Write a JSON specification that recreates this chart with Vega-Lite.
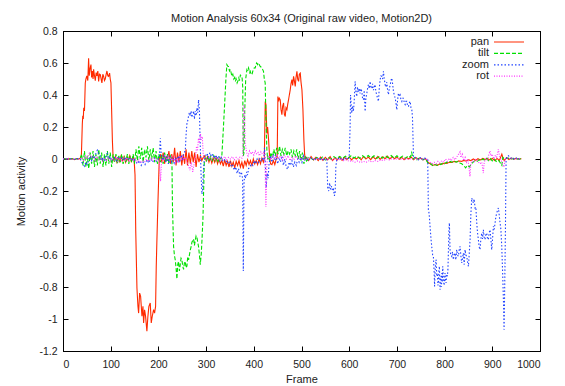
{
"$schema": "https://vega.github.io/schema/vega-lite/v6.json",
"width": 477, "height": 320,
"autosize": {"type": "none"},
"padding": {"left": 63, "top": 31, "right": 25, "bottom": 35},
"background": "white",
"title": {"text": "Motion Analysis 60x34 (Original raw video, Motion2D)", "fontSize": 11, "fontWeight": "normal", "font": "Liberation Sans", "color": "#222", "offset": 2},
"config": {"view": {"stroke": "#000", "strokeWidth": 1}, "font": "Liberation Sans",
 "axis": {"domainColor": "#000", "tickColor": "#000", "labelColor": "#222", "titleColor": "#222", "labelFontSize": 10.5, "titleFontSize": 11, "titleFontWeight": "normal", "grid": false}},
"data": {"values": [
{"s":"pan","f":0,"v":0},{"s":"pan","f":4,"v":0.003},{"s":"pan","f":8,"v":-0.002},{"s":"pan","f":12,"v":0.004},{"s":"pan","f":16,"v":-0.003},{"s":"pan","f":20,"v":0.002},{"s":"pan","f":24,"v":-0.004},{"s":"pan","f":28,"v":0.003},{"s":"pan","f":32,"v":-0.002},{"s":"pan","f":36,"v":0.005},{"s":"pan","f":38.5,"v":0.02},{"s":"pan","f":40.5,"v":0.22},{"s":"pan","f":41.5,"v":0.27},{"s":"pan","f":42.5,"v":0.25},{"s":"pan","f":43.5,"v":0.32},{"s":"pan","f":45,"v":0.3},{"s":"pan","f":46.7,"v":0.475},{"s":"pan","f":48,"v":0.5},{"s":"pan","f":50,"v":0.52},{"s":"pan","f":52,"v":0.49},{"s":"pan","f":53.7,"v":0.63},{"s":"pan","f":55,"v":0.52},{"s":"pan","f":56.5,"v":0.56},{"s":"pan","f":58.6,"v":0.59},{"s":"pan","f":60,"v":0.51},{"s":"pan","f":61.5,"v":0.55},{"s":"pan","f":63,"v":0.5},{"s":"pan","f":64.2,"v":0.56},{"s":"pan","f":66,"v":0.52},{"s":"pan","f":67.7,"v":0.49},{"s":"pan","f":69.5,"v":0.54},{"s":"pan","f":71.2,"v":0.52},{"s":"pan","f":73,"v":0.55},{"s":"pan","f":74.7,"v":0.485},{"s":"pan","f":76.5,"v":0.53},{"s":"pan","f":78.2,"v":0.527},{"s":"pan","f":80,"v":0.5},{"s":"pan","f":81.6,"v":0.475},{"s":"pan","f":83.5,"v":0.53},{"s":"pan","f":85.1,"v":0.517},{"s":"pan","f":87,"v":0.49},{"s":"pan","f":88.6,"v":0.5},{"s":"pan","f":90.5,"v":0.53},{"s":"pan","f":92.1,"v":0.55},{"s":"pan","f":94,"v":0.52},{"s":"pan","f":95.6,"v":0.517},{"s":"pan","f":97.7,"v":0.537},{"s":"pan","f":99,"v":0.5},{"s":"pan","f":100.5,"v":0.475},{"s":"pan","f":102,"v":0.3},{"s":"pan","f":103.5,"v":0.12},{"s":"pan","f":105,"v":0.01},{"s":"pan","f":107,"v":-0.01},{"s":"pan","f":110,"v":0.015},{"s":"pan","f":113,"v":-0.02},{"s":"pan","f":116,"v":0.01},{"s":"pan","f":119,"v":-0.015},{"s":"pan","f":122,"v":0.02},{"s":"pan","f":125,"v":-0.01},{"s":"pan","f":128,"v":0.015},{"s":"pan","f":131,"v":-0.02},{"s":"pan","f":134,"v":0.01},{"s":"pan","f":137,"v":-0.01},{"s":"pan","f":140,"v":0.02},{"s":"pan","f":143,"v":-0.015},{"s":"pan","f":146,"v":0.01},{"s":"pan","f":149,"v":0},{"s":"pan","f":151,"v":-0.1},{"s":"pan","f":152.5,"v":-0.45},{"s":"pan","f":155,"v":-0.806},{"s":"pan","f":157.1,"v":-0.92},{"s":"pan","f":158.5,"v":-0.963},{"s":"pan","f":160.6,"v":-0.838},{"s":"pan","f":162.7,"v":-0.858},{"s":"pan","f":165.5,"v":-0.983},{"s":"pan","f":167.6,"v":-0.92},{"s":"pan","f":169,"v":-1.025},{"s":"pan","f":171,"v":-0.942},{"s":"pan","f":173.1,"v":-0.983},{"s":"pan","f":175.9,"v":-1.077},{"s":"pan","f":178,"v":-0.983},{"s":"pan","f":180.1,"v":-0.921},{"s":"pan","f":182.9,"v":-0.9},{"s":"pan","f":185,"v":-1.025},{"s":"pan","f":187.1,"v":-0.983},{"s":"pan","f":189.9,"v":-0.942},{"s":"pan","f":192,"v":-0.963},{"s":"pan","f":194.1,"v":-0.921},{"s":"pan","f":195.5,"v":-0.671},{"s":"pan","f":196.9,"v":-0.504},{"s":"pan","f":199,"v":-0.275},{"s":"pan","f":201.8,"v":-0.004},{"s":"pan","f":204,"v":0.03},{"s":"pan","f":207,"v":-0.02},{"s":"pan","f":210,"v":0.04},{"s":"pan","f":213,"v":-0.03},{"s":"pan","f":216,"v":0.02},{"s":"pan","f":219,"v":-0.01},{"s":"pan","f":222,"v":0.05},{"s":"pan","f":225,"v":-0.03},{"s":"pan","f":228,"v":0.03},{"s":"pan","f":231,"v":-0.02},{"s":"pan","f":234,"v":0.07},{"s":"pan","f":237,"v":-0.04},{"s":"pan","f":240,"v":0.04},{"s":"pan","f":243,"v":-0.02},{"s":"pan","f":246,"v":0.05},{"s":"pan","f":249,"v":-0.04},{"s":"pan","f":252,"v":0.03},{"s":"pan","f":255,"v":-0.03},{"s":"pan","f":258,"v":0.06},{"s":"pan","f":261,"v":-0.04},{"s":"pan","f":264,"v":0.04},{"s":"pan","f":267,"v":-0.03},{"s":"pan","f":270,"v":0.05},{"s":"pan","f":273,"v":-0.02},{"s":"pan","f":276,"v":0.04},{"s":"pan","f":279,"v":-0.05},{"s":"pan","f":282,"v":0.03},{"s":"pan","f":285,"v":-0.02},{"s":"pan","f":288,"v":0.02},{"s":"pan","f":291,"v":-0.01},{"s":"pan","f":294,"v":0.01},{"s":"pan","f":297,"v":0.02},{"s":"pan","f":300,"v":-0.01},{"s":"pan","f":303,"v":0.015},{"s":"pan","f":306,"v":-0.02},{"s":"pan","f":309,"v":0.01},{"s":"pan","f":312,"v":-0.025},{"s":"pan","f":315,"v":0.005},{"s":"pan","f":318,"v":-0.02},{"s":"pan","f":321,"v":0.01},{"s":"pan","f":324,"v":-0.03},{"s":"pan","f":327,"v":0},{"s":"pan","f":330,"v":-0.03},{"s":"pan","f":333,"v":-0.01},{"s":"pan","f":336,"v":-0.045},{"s":"pan","f":339,"v":-0.005},{"s":"pan","f":342,"v":-0.04},{"s":"pan","f":345,"v":-0.015},{"s":"pan","f":348,"v":-0.05},{"s":"pan","f":351,"v":-0.01},{"s":"pan","f":354,"v":-0.045},{"s":"pan","f":357,"v":-0.02},{"s":"pan","f":360,"v":-0.055},{"s":"pan","f":363,"v":-0.015},{"s":"pan","f":366,"v":-0.04},{"s":"pan","f":369,"v":-0.01},{"s":"pan","f":372,"v":-0.05},{"s":"pan","f":375,"v":-0.02},{"s":"pan","f":378,"v":-0.06},{"s":"pan","f":381,"v":-0.01},{"s":"pan","f":384,"v":-0.04},{"s":"pan","f":387,"v":-0.005},{"s":"pan","f":390,"v":-0.035},{"s":"pan","f":393,"v":-0.01},{"s":"pan","f":396,"v":-0.04},{"s":"pan","f":399,"v":0},{"s":"pan","f":402,"v":-0.03},{"s":"pan","f":405,"v":-0.01},{"s":"pan","f":408,"v":-0.035},{"s":"pan","f":411,"v":0},{"s":"pan","f":414,"v":-0.03},{"s":"pan","f":417,"v":0.005},{"s":"pan","f":420,"v":-0.02},{"s":"pan","f":422,"v":0},{"s":"pan","f":424,"v":0.36},{"s":"pan","f":425.5,"v":0.34},{"s":"pan","f":427.4,"v":0.16},{"s":"pan","f":429,"v":0.2},{"s":"pan","f":431,"v":0.12},{"s":"pan","f":433,"v":0.02},{"s":"pan","f":435,"v":-0.03},{"s":"pan","f":438,"v":-0.035},{"s":"pan","f":441,"v":-0.01},{"s":"pan","f":444,"v":-0.035},{"s":"pan","f":447,"v":0},{"s":"pan","f":449,"v":0.01},{"s":"pan","f":450.5,"v":0.39},{"s":"pan","f":452,"v":0.36},{"s":"pan","f":453.5,"v":0.38},{"s":"pan","f":455.4,"v":0.37},{"s":"pan","f":457,"v":0.31},{"s":"pan","f":458.9,"v":0.277},{"s":"pan","f":460.5,"v":0.33},{"s":"pan","f":462.4,"v":0.35},{"s":"pan","f":464,"v":0.28},{"s":"pan","f":465.9,"v":0.266},{"s":"pan","f":467.5,"v":0.32},{"s":"pan","f":469.4,"v":0.308},{"s":"pan","f":471,"v":0.34},{"s":"pan","f":472.9,"v":0.371},{"s":"pan","f":474.5,"v":0.4},{"s":"pan","f":476.4,"v":0.433},{"s":"pan","f":478,"v":0.47},{"s":"pan","f":479.9,"v":0.496},{"s":"pan","f":481.5,"v":0.46},{"s":"pan","f":483.4,"v":0.517},{"s":"pan","f":485,"v":0.49},{"s":"pan","f":486.9,"v":0.454},{"s":"pan","f":488.5,"v":0.51},{"s":"pan","f":490.4,"v":0.548},{"s":"pan","f":492,"v":0.5},{"s":"pan","f":493.9,"v":0.485},{"s":"pan","f":495.5,"v":0.53},{"s":"pan","f":497.4,"v":0.537},{"s":"pan","f":499,"v":0.48},{"s":"pan","f":500.9,"v":0.433},{"s":"pan","f":503,"v":0.308},{"s":"pan","f":505,"v":0.12},{"s":"pan","f":506.5,"v":0.03},{"s":"pan","f":508,"v":0},{"s":"pan","f":510,"v":0.01},{"s":"pan","f":515,"v":-0.01},{"s":"pan","f":520,"v":0.015},{"s":"pan","f":525,"v":-0.005},{"s":"pan","f":530,"v":0.01},{"s":"pan","f":535,"v":-0.01},{"s":"pan","f":540,"v":0.012},{"s":"pan","f":545,"v":-0.008},{"s":"pan","f":550,"v":0.01},{"s":"pan","f":555,"v":-0.005},{"s":"pan","f":560,"v":0.015},{"s":"pan","f":565,"v":-0.01},{"s":"pan","f":570,"v":0.008},{"s":"pan","f":575,"v":-0.006},{"s":"pan","f":580,"v":0.012},{"s":"pan","f":585,"v":-0.008},{"s":"pan","f":590,"v":0.01},{"s":"pan","f":595,"v":-0.004},{"s":"pan","f":600,"v":0.012},{"s":"pan","f":605,"v":-0.006},{"s":"pan","f":610,"v":0.01},{"s":"pan","f":615,"v":0},{"s":"pan","f":620,"v":0.012},{"s":"pan","f":625,"v":-0.005},{"s":"pan","f":630,"v":0.015},{"s":"pan","f":635,"v":0},{"s":"pan","f":640,"v":0.012},{"s":"pan","f":645,"v":-0.004},{"s":"pan","f":650,"v":0.014},{"s":"pan","f":655,"v":0},{"s":"pan","f":660,"v":0.016},{"s":"pan","f":665,"v":-0.002},{"s":"pan","f":670,"v":0.014},{"s":"pan","f":675,"v":0.002},{"s":"pan","f":680,"v":0.018},{"s":"pan","f":685,"v":0},{"s":"pan","f":690,"v":0.015},{"s":"pan","f":695,"v":0.002},{"s":"pan","f":700,"v":0.012},{"s":"pan","f":705,"v":-0.002},{"s":"pan","f":710,"v":0.01},{"s":"pan","f":715,"v":-0.004},{"s":"pan","f":720,"v":0.01},{"s":"pan","f":725,"v":0},{"s":"pan","f":730,"v":0.012},{"s":"pan","f":735,"v":-0.004},{"s":"pan","f":740,"v":0.008},{"s":"pan","f":745,"v":-0.002},{"s":"pan","f":750,"v":0.006},{"s":"pan","f":755,"v":-0.006},{"s":"pan","f":760,"v":0.002},{"s":"pan","f":765,"v":-0.02},{"s":"pan","f":770,"v":-0.03},{"s":"pan","f":775,"v":-0.04},{"s":"pan","f":780,"v":-0.035},{"s":"pan","f":785,"v":-0.04},{"s":"pan","f":790,"v":-0.03},{"s":"pan","f":795,"v":-0.032},{"s":"pan","f":800,"v":-0.025},{"s":"pan","f":805,"v":-0.028},{"s":"pan","f":810,"v":-0.02},{"s":"pan","f":815,"v":-0.022},{"s":"pan","f":820,"v":-0.015},{"s":"pan","f":825,"v":-0.018},{"s":"pan","f":830,"v":-0.012},{"s":"pan","f":835,"v":-0.015},{"s":"pan","f":840,"v":-0.01},{"s":"pan","f":845,"v":-0.012},{"s":"pan","f":850,"v":-0.005},{"s":"pan","f":855,"v":-0.01},{"s":"pan","f":860,"v":0},{"s":"pan","f":865,"v":-0.008},{"s":"pan","f":870,"v":0.002},{"s":"pan","f":875,"v":-0.006},{"s":"pan","f":880,"v":0.004},{"s":"pan","f":885,"v":-0.004},{"s":"pan","f":890,"v":0.002},{"s":"pan","f":895,"v":-0.006},{"s":"pan","f":900,"v":0.004},{"s":"pan","f":905,"v":-0.01},{"s":"pan","f":910,"v":0.003},{"s":"pan","f":915,"v":-0.008},{"s":"pan","f":920,"v":0.03},{"s":"pan","f":922,"v":0.01},{"s":"pan","f":925,"v":-0.01},{"s":"pan","f":930,"v":0.008},{"s":"pan","f":935,"v":-0.004},{"s":"pan","f":940,"v":0.006},{"s":"pan","f":945,"v":-0.002},{"s":"pan","f":950,"v":0.004},{"s":"pan","f":955,"v":0},{"s":"pan","f":961,"v":0.002},
{"s":"tilt","f":0,"v":0},{"s":"tilt","f":6,"v":0.002},{"s":"tilt","f":12,"v":-0.002},{"s":"tilt","f":18,"v":0.002},{"s":"tilt","f":24,"v":-0.003},{"s":"tilt","f":30,"v":0.002},{"s":"tilt","f":36,"v":0},{"s":"tilt","f":39,"v":0.03},{"s":"tilt","f":42,"v":-0.04},{"s":"tilt","f":45,"v":0.05},{"s":"tilt","f":48,"v":-0.05},{"s":"tilt","f":51,"v":0.02},{"s":"tilt","f":54,"v":-0.06},{"s":"tilt","f":57,"v":0.04},{"s":"tilt","f":60,"v":-0.03},{"s":"tilt","f":63,"v":0.05},{"s":"tilt","f":66,"v":-0.05},{"s":"tilt","f":69,"v":0.03},{"s":"tilt","f":72,"v":-0.04},{"s":"tilt","f":75,"v":0.06},{"s":"tilt","f":78,"v":-0.03},{"s":"tilt","f":81,"v":0.04},{"s":"tilt","f":84,"v":-0.05},{"s":"tilt","f":87,"v":0.03},{"s":"tilt","f":90,"v":-0.04},{"s":"tilt","f":93,"v":0.05},{"s":"tilt","f":96,"v":-0.03},{"s":"tilt","f":99,"v":0.04},{"s":"tilt","f":102,"v":-0.05},{"s":"tilt","f":105,"v":0.03},{"s":"tilt","f":108,"v":-0.02},{"s":"tilt","f":111,"v":0.03},{"s":"tilt","f":114,"v":-0.03},{"s":"tilt","f":117,"v":0.02},{"s":"tilt","f":120,"v":-0.02},{"s":"tilt","f":123,"v":0.03},{"s":"tilt","f":126,"v":-0.03},{"s":"tilt","f":129,"v":0.01},{"s":"tilt","f":132,"v":-0.02},{"s":"tilt","f":135,"v":0.03},{"s":"tilt","f":138,"v":-0.03},{"s":"tilt","f":141,"v":0.02},{"s":"tilt","f":144,"v":-0.02},{"s":"tilt","f":147,"v":0.03},{"s":"tilt","f":150,"v":-0.03},{"s":"tilt","f":153,"v":0.06},{"s":"tilt","f":156,"v":-0.01},{"s":"tilt","f":159,"v":0.08},{"s":"tilt","f":162,"v":0},{"s":"tilt","f":165,"v":0.07},{"s":"tilt","f":168,"v":-0.02},{"s":"tilt","f":171,"v":0.06},{"s":"tilt","f":174,"v":0.01},{"s":"tilt","f":177,"v":0.08},{"s":"tilt","f":180,"v":-0.01},{"s":"tilt","f":183,"v":0.06},{"s":"tilt","f":186,"v":0},{"s":"tilt","f":189,"v":0.07},{"s":"tilt","f":192,"v":-0.02},{"s":"tilt","f":195,"v":0.05},{"s":"tilt","f":198,"v":-0.03},{"s":"tilt","f":201,"v":0.03},{"s":"tilt","f":204,"v":-0.02},{"s":"tilt","f":207,"v":0.03},{"s":"tilt","f":210,"v":-0.03},{"s":"tilt","f":213,"v":0.04},{"s":"tilt","f":216,"v":-0.02},{"s":"tilt","f":219,"v":0.03},{"s":"tilt","f":222,"v":-0.03},{"s":"tilt","f":225,"v":0.02},{"s":"tilt","f":228.3,"v":0},{"s":"tilt","f":229.5,"v":-0.3},{"s":"tilt","f":231.8,"v":-0.546},{"s":"tilt","f":233.5,"v":-0.6},{"s":"tilt","f":235.3,"v":-0.63},{"s":"tilt","f":237,"v":-0.68},{"s":"tilt","f":238.8,"v":-0.75},{"s":"tilt","f":240.5,"v":-0.66},{"s":"tilt","f":242.3,"v":-0.64},{"s":"tilt","f":244,"v":-0.7},{"s":"tilt","f":245.8,"v":-0.66},{"s":"tilt","f":247.5,"v":-0.62},{"s":"tilt","f":249.3,"v":-0.63},{"s":"tilt","f":251,"v":-0.67},{"s":"tilt","f":252.8,"v":-0.69},{"s":"tilt","f":254.5,"v":-0.65},{"s":"tilt","f":256.3,"v":-0.64},{"s":"tilt","f":258,"v":-0.68},{"s":"tilt","f":259.8,"v":-0.67},{"s":"tilt","f":261.5,"v":-0.61},{"s":"tilt","f":263.3,"v":-0.63},{"s":"tilt","f":265,"v":-0.6},{"s":"tilt","f":266.8,"v":-0.57},{"s":"tilt","f":268.5,"v":-0.55},{"s":"tilt","f":270.3,"v":-0.52},{"s":"tilt","f":272,"v":-0.51},{"s":"tilt","f":273.8,"v":-0.5},{"s":"tilt","f":275.5,"v":-0.54},{"s":"tilt","f":277.3,"v":-0.51},{"s":"tilt","f":279,"v":-0.48},{"s":"tilt","f":280.8,"v":-0.49},{"s":"tilt","f":282.5,"v":-0.52},{"s":"tilt","f":284.3,"v":-0.55},{"s":"tilt","f":286,"v":-0.6},{"s":"tilt","f":287.8,"v":-0.66},{"s":"tilt","f":289.9,"v":-0.59},{"s":"tilt","f":291.5,"v":-0.5},{"s":"tilt","f":293.4,"v":-0.37},{"s":"tilt","f":294.8,"v":-0.2},{"s":"tilt","f":296.2,"v":-0.02},{"s":"tilt","f":298,"v":0.01},{"s":"tilt","f":301,"v":-0.01},{"s":"tilt","f":304,"v":0.02},{"s":"tilt","f":307,"v":-0.015},{"s":"tilt","f":310,"v":0.015},{"s":"tilt","f":313,"v":-0.01},{"s":"tilt","f":316,"v":0.02},{"s":"tilt","f":319,"v":-0.01},{"s":"tilt","f":322,"v":0.01},{"s":"tilt","f":325,"v":-0.015},{"s":"tilt","f":328,"v":0.01},{"s":"tilt","f":331,"v":0},{"s":"tilt","f":333,"v":0.02},{"s":"tilt","f":336,"v":0.18},{"s":"tilt","f":339,"v":0.35},{"s":"tilt","f":341.5,"v":0.5},{"s":"tilt","f":343.6,"v":0.59},{"s":"tilt","f":345.5,"v":0.58},{"s":"tilt","f":347,"v":0.579},{"s":"tilt","f":349,"v":0.55},{"s":"tilt","f":351,"v":0.56},{"s":"tilt","f":354,"v":0.517},{"s":"tilt","f":356,"v":0.53},{"s":"tilt","f":358,"v":0.5},{"s":"tilt","f":360,"v":0.51},{"s":"tilt","f":361.5,"v":0.485},{"s":"tilt","f":363,"v":0.5},{"s":"tilt","f":365,"v":0.475},{"s":"tilt","f":367,"v":0.49},{"s":"tilt","f":368.5,"v":0.506},{"s":"tilt","f":370,"v":0.49},{"s":"tilt","f":372,"v":0.527},{"s":"tilt","f":374,"v":0.51},{"s":"tilt","f":375.5,"v":0.506},{"s":"tilt","f":376.8,"v":0.45},{"s":"tilt","f":378,"v":0.02},{"s":"tilt","f":379.5,"v":0.04},{"s":"tilt","f":381,"v":0.3},{"s":"tilt","f":383,"v":0.5},{"s":"tilt","f":385.5,"v":0.558},{"s":"tilt","f":387,"v":0.55},{"s":"tilt","f":389,"v":0.569},{"s":"tilt","f":391,"v":0.54},{"s":"tilt","f":392.5,"v":0.548},{"s":"tilt","f":394,"v":0.53},{"s":"tilt","f":396,"v":0.527},{"s":"tilt","f":398,"v":0.55},{"s":"tilt","f":399.5,"v":0.558},{"s":"tilt","f":401,"v":0.57},{"s":"tilt","f":403,"v":0.569},{"s":"tilt","f":404.5,"v":0.59},{"s":"tilt","f":406,"v":0.6},{"s":"tilt","f":408,"v":0.59},{"s":"tilt","f":409.8,"v":0.6},{"s":"tilt","f":411.5,"v":0.59},{"s":"tilt","f":413,"v":0.58},{"s":"tilt","f":415,"v":0.575},{"s":"tilt","f":416.8,"v":0.569},{"s":"tilt","f":418.5,"v":0.56},{"s":"tilt","f":420.3,"v":0.548},{"s":"tilt","f":422,"v":0.5},{"s":"tilt","f":423.9,"v":0.475},{"s":"tilt","f":425.3,"v":0.266},{"s":"tilt","f":427.4,"v":0.058},{"s":"tilt","f":429,"v":0},{"s":"tilt","f":430,"v":0.02},{"s":"tilt","f":433,"v":-0.01},{"s":"tilt","f":436,"v":0.04},{"s":"tilt","f":439,"v":0.01},{"s":"tilt","f":442,"v":0.06},{"s":"tilt","f":445,"v":0.02},{"s":"tilt","f":448,"v":0.07},{"s":"tilt","f":451,"v":0.03},{"s":"tilt","f":454,"v":0.08},{"s":"tilt","f":457,"v":0.02},{"s":"tilt","f":460,"v":0.06},{"s":"tilt","f":463,"v":0.03},{"s":"tilt","f":466,"v":0.07},{"s":"tilt","f":469,"v":0.02},{"s":"tilt","f":472,"v":0.05},{"s":"tilt","f":475,"v":0.03},{"s":"tilt","f":478,"v":0.06},{"s":"tilt","f":481,"v":0.01},{"s":"tilt","f":484,"v":0.05},{"s":"tilt","f":487,"v":0.02},{"s":"tilt","f":490,"v":0.06},{"s":"tilt","f":493,"v":0},{"s":"tilt","f":496,"v":0.05},{"s":"tilt","f":499,"v":-0.01},{"s":"tilt","f":502,"v":0.04},{"s":"tilt","f":505,"v":-0.03},{"s":"tilt","f":508,"v":0.02},{"s":"tilt","f":511,"v":-0.02},{"s":"tilt","f":514,"v":0.01},{"s":"tilt","f":520,"v":0.005},{"s":"tilt","f":526,"v":-0.008},{"s":"tilt","f":532,"v":0.01},{"s":"tilt","f":538,"v":-0.005},{"s":"tilt","f":544,"v":0.012},{"s":"tilt","f":550,"v":-0.006},{"s":"tilt","f":556,"v":0.01},{"s":"tilt","f":562,"v":0},{"s":"tilt","f":568,"v":0.015},{"s":"tilt","f":574,"v":0.003},{"s":"tilt","f":580,"v":0.016},{"s":"tilt","f":586,"v":0.004},{"s":"tilt","f":592,"v":0.018},{"s":"tilt","f":598,"v":0.006},{"s":"tilt","f":604,"v":0.02},{"s":"tilt","f":610,"v":0.006},{"s":"tilt","f":616,"v":0.018},{"s":"tilt","f":622,"v":0.004},{"s":"tilt","f":628,"v":0.02},{"s":"tilt","f":634,"v":0.008},{"s":"tilt","f":640,"v":0.022},{"s":"tilt","f":646,"v":0.006},{"s":"tilt","f":652,"v":0.02},{"s":"tilt","f":658,"v":0.004},{"s":"tilt","f":664,"v":0.018},{"s":"tilt","f":670,"v":0.006},{"s":"tilt","f":676,"v":0.02},{"s":"tilt","f":682,"v":0.008},{"s":"tilt","f":688,"v":0.022},{"s":"tilt","f":694,"v":0.005},{"s":"tilt","f":700,"v":0.02},{"s":"tilt","f":706,"v":0.006},{"s":"tilt","f":712,"v":0.018},{"s":"tilt","f":718,"v":0.004},{"s":"tilt","f":724,"v":0.02},{"s":"tilt","f":728,"v":0.01},{"s":"tilt","f":731,"v":0.04},{"s":"tilt","f":734,"v":0},{"s":"tilt","f":738,"v":0.01},{"s":"tilt","f":742,"v":-0.005},{"s":"tilt","f":748,"v":0.008},{"s":"tilt","f":754,"v":-0.004},{"s":"tilt","f":760,"v":0},{"s":"tilt","f":764,"v":-0.02},{"s":"tilt","f":768,"v":-0.035},{"s":"tilt","f":772,"v":-0.03},{"s":"tilt","f":776,"v":-0.045},{"s":"tilt","f":780,"v":-0.035},{"s":"tilt","f":784,"v":-0.04},{"s":"tilt","f":788,"v":-0.03},{"s":"tilt","f":792,"v":-0.035},{"s":"tilt","f":796,"v":-0.025},{"s":"tilt","f":800,"v":-0.03},{"s":"tilt","f":804,"v":-0.02},{"s":"tilt","f":808,"v":-0.025},{"s":"tilt","f":812,"v":-0.015},{"s":"tilt","f":816,"v":-0.02},{"s":"tilt","f":820,"v":-0.012},{"s":"tilt","f":824,"v":-0.02},{"s":"tilt","f":828,"v":-0.015},{"s":"tilt","f":832,"v":-0.025},{"s":"tilt","f":836,"v":-0.03},{"s":"tilt","f":840,"v":-0.04},{"s":"tilt","f":844,"v":-0.055},{"s":"tilt","f":848,"v":-0.04},{"s":"tilt","f":852,"v":-0.05},{"s":"tilt","f":856,"v":-0.03},{"s":"tilt","f":860,"v":-0.02},{"s":"tilt","f":864,"v":-0.01},{"s":"tilt","f":868,"v":-0.015},{"s":"tilt","f":872,"v":-0.005},{"s":"tilt","f":876,"v":-0.012},{"s":"tilt","f":880,"v":0},{"s":"tilt","f":884,"v":-0.008},{"s":"tilt","f":888,"v":0.004},{"s":"tilt","f":892,"v":-0.01},{"s":"tilt","f":896,"v":0.002},{"s":"tilt","f":900,"v":-0.012},{"s":"tilt","f":904,"v":0},{"s":"tilt","f":908,"v":-0.015},{"s":"tilt","f":912,"v":-0.005},{"s":"tilt","f":916,"v":-0.02},{"s":"tilt","f":920,"v":-0.04},{"s":"tilt","f":922,"v":0.01},{"s":"tilt","f":926,"v":0},{"s":"tilt","f":932,"v":0.008},{"s":"tilt","f":938,"v":-0.002},{"s":"tilt","f":944,"v":0.004},{"s":"tilt","f":950,"v":-0.002},{"s":"tilt","f":956,"v":0.002},{"s":"tilt","f":961,"v":0},
{"s":"zoom","f":0,"v":0},{"s":"zoom","f":6,"v":0.002},{"s":"zoom","f":12,"v":-0.002},{"s":"zoom","f":18,"v":0.002},{"s":"zoom","f":24,"v":-0.002},{"s":"zoom","f":30,"v":0.002},{"s":"zoom","f":36,"v":0},{"s":"zoom","f":39,"v":-0.02},{"s":"zoom","f":42,"v":-0.03},{"s":"zoom","f":45,"v":-0.045},{"s":"zoom","f":48,"v":-0.02},{"s":"zoom","f":51,"v":-0.035},{"s":"zoom","f":54,"v":0},{"s":"zoom","f":57,"v":0.015},{"s":"zoom","f":60,"v":-0.01},{"s":"zoom","f":63,"v":0.02},{"s":"zoom","f":66,"v":0.01},{"s":"zoom","f":69,"v":0.035},{"s":"zoom","f":72,"v":0.055},{"s":"zoom","f":75,"v":0.03},{"s":"zoom","f":78,"v":0.02},{"s":"zoom","f":81,"v":-0.01},{"s":"zoom","f":84,"v":0.01},{"s":"zoom","f":87,"v":-0.015},{"s":"zoom","f":90,"v":0.02},{"s":"zoom","f":93,"v":0.035},{"s":"zoom","f":96,"v":0},{"s":"zoom","f":99,"v":0.015},{"s":"zoom","f":102,"v":-0.01},{"s":"zoom","f":105,"v":0.005},{"s":"zoom","f":108,"v":0.01},{"s":"zoom","f":112,"v":-0.01},{"s":"zoom","f":116,"v":0.015},{"s":"zoom","f":120,"v":-0.005},{"s":"zoom","f":124,"v":0.01},{"s":"zoom","f":128,"v":-0.01},{"s":"zoom","f":132,"v":0.012},{"s":"zoom","f":136,"v":-0.008},{"s":"zoom","f":140,"v":0.01},{"s":"zoom","f":144,"v":-0.01},{"s":"zoom","f":148,"v":0.005},{"s":"zoom","f":152,"v":-0.015},{"s":"zoom","f":156,"v":-0.03},{"s":"zoom","f":160,"v":-0.01},{"s":"zoom","f":164,"v":-0.04},{"s":"zoom","f":168,"v":-0.02},{"s":"zoom","f":172,"v":-0.035},{"s":"zoom","f":176,"v":-0.005},{"s":"zoom","f":180,"v":-0.025},{"s":"zoom","f":184,"v":0},{"s":"zoom","f":188,"v":-0.02},{"s":"zoom","f":192,"v":0.005},{"s":"zoom","f":196,"v":-0.015},{"s":"zoom","f":200,"v":0},{"s":"zoom","f":202,"v":0.01},{"s":"zoom","f":204,"v":0.13},{"s":"zoom","f":206,"v":0.02},{"s":"zoom","f":209,"v":-0.01},{"s":"zoom","f":212,"v":0.02},{"s":"zoom","f":215,"v":-0.02},{"s":"zoom","f":218,"v":0.01},{"s":"zoom","f":221,"v":-0.03},{"s":"zoom","f":224,"v":0.015},{"s":"zoom","f":227,"v":-0.02},{"s":"zoom","f":230,"v":0},{"s":"zoom","f":233,"v":-0.025},{"s":"zoom","f":236,"v":0.01},{"s":"zoom","f":239,"v":-0.015},{"s":"zoom","f":242,"v":0.02},{"s":"zoom","f":245,"v":-0.01},{"s":"zoom","f":248,"v":0.025},{"s":"zoom","f":251,"v":0},{"s":"zoom","f":254,"v":0.04},{"s":"zoom","f":256.3,"v":0.05},{"s":"zoom","f":258,"v":0.15},{"s":"zoom","f":259.8,"v":0.22},{"s":"zoom","f":261.5,"v":0.24},{"s":"zoom","f":263.3,"v":0.27},{"s":"zoom","f":265,"v":0.29},{"s":"zoom","f":266.8,"v":0.27},{"s":"zoom","f":268.5,"v":0.3},{"s":"zoom","f":270.3,"v":0.26},{"s":"zoom","f":272,"v":0.28},{"s":"zoom","f":273.8,"v":0.3},{"s":"zoom","f":275.5,"v":0.25},{"s":"zoom","f":277.3,"v":0.3},{"s":"zoom","f":279,"v":0.27},{"s":"zoom","f":280.8,"v":0.32},{"s":"zoom","f":282.5,"v":0.29},{"s":"zoom","f":284.3,"v":0.37},{"s":"zoom","f":286,"v":0.3},{"s":"zoom","f":287.8,"v":0.08},{"s":"zoom","f":289.5,"v":-0.1},{"s":"zoom","f":291.3,"v":-0.22},{"s":"zoom","f":292.5,"v":-0.2},{"s":"zoom","f":294.8,"v":-0.05},{"s":"zoom","f":296.5,"v":0},{"s":"zoom","f":299,"v":0.02},{"s":"zoom","f":302,"v":0.035},{"s":"zoom","f":305,"v":0.01},{"s":"zoom","f":308,"v":0.04},{"s":"zoom","f":311,"v":0.015},{"s":"zoom","f":314,"v":0.03},{"s":"zoom","f":317,"v":0.005},{"s":"zoom","f":320,"v":0.025},{"s":"zoom","f":323,"v":0},{"s":"zoom","f":326,"v":0.02},{"s":"zoom","f":329,"v":-0.01},{"s":"zoom","f":332,"v":0.01},{"s":"zoom","f":335,"v":-0.01},{"s":"zoom","f":338,"v":0},{"s":"zoom","f":341,"v":-0.02},{"s":"zoom","f":344,"v":-0.01},{"s":"zoom","f":347,"v":-0.03},{"s":"zoom","f":350,"v":-0.02},{"s":"zoom","f":353,"v":-0.05},{"s":"zoom","f":356,"v":-0.04},{"s":"zoom","f":359,"v":-0.07},{"s":"zoom","f":362,"v":-0.05},{"s":"zoom","f":365,"v":-0.09},{"s":"zoom","f":368,"v":-0.06},{"s":"zoom","f":371,"v":-0.11},{"s":"zoom","f":374,"v":-0.08},{"s":"zoom","f":376.5,"v":-0.12},{"s":"zoom","f":378,"v":-0.7},{"s":"zoom","f":379.5,"v":-0.15},{"s":"zoom","f":381,"v":-0.1},{"s":"zoom","f":383,"v":-0.12},{"s":"zoom","f":385,"v":-0.08},{"s":"zoom","f":387,"v":-0.1},{"s":"zoom","f":389,"v":-0.06},{"s":"zoom","f":392,"v":-0.05},{"s":"zoom","f":395,"v":-0.03},{"s":"zoom","f":398,"v":-0.04},{"s":"zoom","f":401,"v":-0.01},{"s":"zoom","f":404,"v":-0.03},{"s":"zoom","f":407,"v":0},{"s":"zoom","f":410,"v":-0.02},{"s":"zoom","f":413,"v":0.005},{"s":"zoom","f":416,"v":-0.015},{"s":"zoom","f":419,"v":0.01},{"s":"zoom","f":421,"v":0},{"s":"zoom","f":422.5,"v":0.07},{"s":"zoom","f":424.5,"v":-0.05},{"s":"zoom","f":426,"v":-0.18},{"s":"zoom","f":428,"v":-0.09},{"s":"zoom","f":430,"v":-0.12},{"s":"zoom","f":432,"v":-0.03},{"s":"zoom","f":435,"v":0.02},{"s":"zoom","f":438,"v":-0.02},{"s":"zoom","f":441,"v":0.03},{"s":"zoom","f":444,"v":-0.01},{"s":"zoom","f":447,"v":0.02},{"s":"zoom","f":450,"v":-0.03},{"s":"zoom","f":453,"v":0.01},{"s":"zoom","f":456,"v":-0.02},{"s":"zoom","f":459,"v":0.02},{"s":"zoom","f":462,"v":-0.04},{"s":"zoom","f":465,"v":0},{"s":"zoom","f":468,"v":-0.05},{"s":"zoom","f":471,"v":-0.065},{"s":"zoom","f":474,"v":-0.02},{"s":"zoom","f":477,"v":-0.04},{"s":"zoom","f":480,"v":-0.01},{"s":"zoom","f":483,"v":-0.05},{"s":"zoom","f":486,"v":-0.02},{"s":"zoom","f":489,"v":-0.04},{"s":"zoom","f":492,"v":0},{"s":"zoom","f":495,"v":-0.02},{"s":"zoom","f":498,"v":0.01},{"s":"zoom","f":501,"v":-0.02},{"s":"zoom","f":504,"v":0.02},{"s":"zoom","f":507,"v":-0.01},{"s":"zoom","f":510,"v":0.01},{"s":"zoom","f":514,"v":-0.005},{"s":"zoom","f":518,"v":0.008},{"s":"zoom","f":522,"v":-0.005},{"s":"zoom","f":526,"v":0.006},{"s":"zoom","f":530,"v":-0.004},{"s":"zoom","f":534,"v":0.005},{"s":"zoom","f":538,"v":-0.006},{"s":"zoom","f":542,"v":0.004},{"s":"zoom","f":546,"v":-0.005},{"s":"zoom","f":550,"v":0},{"s":"zoom","f":553,"v":-0.005},{"s":"zoom","f":555,"v":-0.18},{"s":"zoom","f":557,"v":-0.2},{"s":"zoom","f":559,"v":-0.15},{"s":"zoom","f":561,"v":-0.19},{"s":"zoom","f":563,"v":-0.17},{"s":"zoom","f":565,"v":-0.2},{"s":"zoom","f":567,"v":-0.19},{"s":"zoom","f":569,"v":-0.23},{"s":"zoom","f":570.5,"v":-0.21},{"s":"zoom","f":572,"v":-0.05},{"s":"zoom","f":574,"v":0},{"s":"zoom","f":577,"v":0.005},{"s":"zoom","f":581,"v":-0.005},{"s":"zoom","f":585,"v":0.008},{"s":"zoom","f":589,"v":-0.004},{"s":"zoom","f":593,"v":0.006},{"s":"zoom","f":597,"v":-0.003},{"s":"zoom","f":600,"v":0.01},{"s":"zoom","f":601.9,"v":0.2},{"s":"zoom","f":602.8,"v":0.4},{"s":"zoom","f":605.4,"v":0.287},{"s":"zoom","f":607,"v":0.33},{"s":"zoom","f":608.9,"v":0.3},{"s":"zoom","f":610.5,"v":0.36},{"s":"zoom","f":612.4,"v":0.485},{"s":"zoom","f":614,"v":0.42},{"s":"zoom","f":615.9,"v":0.39},{"s":"zoom","f":617.5,"v":0.45},{"s":"zoom","f":619.4,"v":0.42},{"s":"zoom","f":621,"v":0.44},{"s":"zoom","f":622.9,"v":0.41},{"s":"zoom","f":624.5,"v":0.44},{"s":"zoom","f":626.4,"v":0.423},{"s":"zoom","f":628,"v":0.38},{"s":"zoom","f":629.9,"v":0.37},{"s":"zoom","f":631.5,"v":0.43},{"s":"zoom","f":633.4,"v":0.298},{"s":"zoom","f":635,"v":0.38},{"s":"zoom","f":636.9,"v":0.41},{"s":"zoom","f":638.5,"v":0.44},{"s":"zoom","f":640.4,"v":0.465},{"s":"zoom","f":642,"v":0.44},{"s":"zoom","f":643.9,"v":0.485},{"s":"zoom","f":645.5,"v":0.45},{"s":"zoom","f":647.4,"v":0.44},{"s":"zoom","f":649,"v":0.47},{"s":"zoom","f":650.8,"v":0.43},{"s":"zoom","f":652.5,"v":0.45},{"s":"zoom","f":654.3,"v":0.465},{"s":"zoom","f":656,"v":0.42},{"s":"zoom","f":657.8,"v":0.4},{"s":"zoom","f":659.5,"v":0.38},{"s":"zoom","f":661.3,"v":0.36},{"s":"zoom","f":663,"v":0.44},{"s":"zoom","f":664.8,"v":0.496},{"s":"zoom","f":666.5,"v":0.52},{"s":"zoom","f":668.3,"v":0.517},{"s":"zoom","f":670,"v":0.5},{"s":"zoom","f":671.8,"v":0.548},{"s":"zoom","f":673.5,"v":0.5},{"s":"zoom","f":675.3,"v":0.465},{"s":"zoom","f":677,"v":0.45},{"s":"zoom","f":678.8,"v":0.48},{"s":"zoom","f":680.5,"v":0.43},{"s":"zoom","f":682.3,"v":0.402},{"s":"zoom","f":684,"v":0.44},{"s":"zoom","f":685.8,"v":0.46},{"s":"zoom","f":687.5,"v":0.49},{"s":"zoom","f":689.3,"v":0.506},{"s":"zoom","f":691,"v":0.47},{"s":"zoom","f":692.8,"v":0.423},{"s":"zoom","f":694.5,"v":0.4},{"s":"zoom","f":696.3,"v":0.381},{"s":"zoom","f":698,"v":0.35},{"s":"zoom","f":699.8,"v":0.308},{"s":"zoom","f":701.5,"v":0.37},{"s":"zoom","f":703.3,"v":0.412},{"s":"zoom","f":705,"v":0.39},{"s":"zoom","f":706.8,"v":0.4},{"s":"zoom","f":708.5,"v":0.37},{"s":"zoom","f":710.3,"v":0.36},{"s":"zoom","f":712,"v":0.38},{"s":"zoom","f":713.8,"v":0.38},{"s":"zoom","f":715.5,"v":0.35},{"s":"zoom","f":717.3,"v":0.34},{"s":"zoom","f":719,"v":0.36},{"s":"zoom","f":720.8,"v":0.36},{"s":"zoom","f":722.5,"v":0.33},{"s":"zoom","f":724.3,"v":0.329},{"s":"zoom","f":726,"v":0.35},{"s":"zoom","f":727.8,"v":0.36},{"s":"zoom","f":729.5,"v":0.32},{"s":"zoom","f":731.2,"v":0.308},{"s":"zoom","f":732.6,"v":0.266},{"s":"zoom","f":734.8,"v":0.016},{"s":"zoom","f":737,"v":0.005},{"s":"zoom","f":741,"v":0.01},{"s":"zoom","f":745,"v":-0.005},{"s":"zoom","f":749,"v":0.008},{"s":"zoom","f":753,"v":-0.004},{"s":"zoom","f":757,"v":0.01},{"s":"zoom","f":761,"v":0},{"s":"zoom","f":764.6,"v":-0.004},{"s":"zoom","f":766,"v":-0.317},{"s":"zoom","f":767.5,"v":-0.34},{"s":"zoom","f":769.5,"v":-0.421},{"s":"zoom","f":771.5,"v":-0.5},{"s":"zoom","f":773,"v":-0.546},{"s":"zoom","f":775,"v":-0.6},{"s":"zoom","f":776.5,"v":-0.608},{"s":"zoom","f":778,"v":-0.7},{"s":"zoom","f":779,"v":-0.796},{"s":"zoom","f":780.5,"v":-0.68},{"s":"zoom","f":782.1,"v":-0.629},{"s":"zoom","f":783.5,"v":-0.72},{"s":"zoom","f":784.9,"v":-0.713},{"s":"zoom","f":786,"v":-0.79},{"s":"zoom","f":787,"v":-0.775},{"s":"zoom","f":788,"v":-0.7},{"s":"zoom","f":789.1,"v":-0.671},{"s":"zoom","f":790.5,"v":-0.817},{"s":"zoom","f":791.5,"v":-0.74},{"s":"zoom","f":792.6,"v":-0.733},{"s":"zoom","f":793.5,"v":-0.8},{"s":"zoom","f":794.2,"v":-0.713},{"s":"zoom","f":795,"v":-0.77},{"s":"zoom","f":796.1,"v":-0.671},{"s":"zoom","f":797.5,"v":-0.754},{"s":"zoom","f":799,"v":-0.79},{"s":"zoom","f":800.9,"v":-0.713},{"s":"zoom","f":802,"v":-0.76},{"s":"zoom","f":803,"v":-0.775},{"s":"zoom","f":804.5,"v":-0.72},{"s":"zoom","f":805.8,"v":-0.733},{"s":"zoom","f":807,"v":-0.69},{"s":"zoom","f":807.9,"v":-0.588},{"s":"zoom","f":809,"v":-0.45},{"s":"zoom","f":810,"v":-0.4},{"s":"zoom","f":811.4,"v":-0.567},{"s":"zoom","f":813,"v":-0.6},{"s":"zoom","f":814.9,"v":-0.608},{"s":"zoom","f":816.5,"v":-0.58},{"s":"zoom","f":818.4,"v":-0.629},{"s":"zoom","f":820,"v":-0.6},{"s":"zoom","f":821.9,"v":-0.588},{"s":"zoom","f":823.5,"v":-0.63},{"s":"zoom","f":825.4,"v":-0.567},{"s":"zoom","f":827,"v":-0.6},{"s":"zoom","f":828.9,"v":-0.608},{"s":"zoom","f":830.5,"v":-0.57},{"s":"zoom","f":832.4,"v":-0.546},{"s":"zoom","f":834,"v":-0.6},{"s":"zoom","f":835.9,"v":-0.65},{"s":"zoom","f":837.5,"v":-0.62},{"s":"zoom","f":839.4,"v":-0.588},{"s":"zoom","f":841,"v":-0.66},{"s":"zoom","f":842.9,"v":-0.567},{"s":"zoom","f":844.5,"v":-0.6},{"s":"zoom","f":846.4,"v":-0.608},{"s":"zoom","f":848,"v":-0.64},{"s":"zoom","f":849.9,"v":-0.671},{"s":"zoom","f":851.5,"v":-0.6},{"s":"zoom","f":853.4,"v":-0.504},{"s":"zoom","f":855,"v":-0.35},{"s":"zoom","f":856.9,"v":-0.244},{"s":"zoom","f":858.5,"v":-0.26},{"s":"zoom","f":860.4,"v":-0.275},{"s":"zoom","f":862,"v":-0.25},{"s":"zoom","f":863.9,"v":-0.306},{"s":"zoom","f":865.5,"v":-0.3},{"s":"zoom","f":867.4,"v":-0.4},{"s":"zoom","f":869,"v":-0.46},{"s":"zoom","f":870.8,"v":-0.504},{"s":"zoom","f":872.5,"v":-0.55},{"s":"zoom","f":874.3,"v":-0.567},{"s":"zoom","f":876,"v":-0.5},{"s":"zoom","f":877.8,"v":-0.463},{"s":"zoom","f":879.5,"v":-0.5},{"s":"zoom","f":881.3,"v":-0.442},{"s":"zoom","f":883,"v":-0.49},{"s":"zoom","f":884.8,"v":-0.504},{"s":"zoom","f":886.5,"v":-0.47},{"s":"zoom","f":888.3,"v":-0.463},{"s":"zoom","f":890,"v":-0.5},{"s":"zoom","f":891.8,"v":-0.504},{"s":"zoom","f":893.5,"v":-0.46},{"s":"zoom","f":895.3,"v":-0.442},{"s":"zoom","f":897,"v":-0.5},{"s":"zoom","f":898.8,"v":-0.567},{"s":"zoom","f":900.5,"v":-0.5},{"s":"zoom","f":902.3,"v":-0.421},{"s":"zoom","f":904,"v":-0.44},{"s":"zoom","f":905.8,"v":-0.4},{"s":"zoom","f":907.5,"v":-0.36},{"s":"zoom","f":909.3,"v":-0.338},{"s":"zoom","f":911,"v":-0.32},{"s":"zoom","f":912.8,"v":-0.306},{"s":"zoom","f":914.5,"v":-0.35},{"s":"zoom","f":916.3,"v":-0.4},{"s":"zoom","f":918,"v":-0.44},{"s":"zoom","f":919.8,"v":-0.546},{"s":"zoom","f":921.9,"v":-0.733},{"s":"zoom","f":923.5,"v":-0.9},{"s":"zoom","f":924.7,"v":-1.067},{"s":"zoom","f":926,"v":-0.8},{"s":"zoom","f":927.5,"v":-0.45},{"s":"zoom","f":928.9,"v":-0.004},{"s":"zoom","f":931,"v":0.015},{"s":"zoom","f":934,"v":0.02},{"s":"zoom","f":938,"v":0.005},{"s":"zoom","f":942,"v":0.01},{"s":"zoom","f":946,"v":-0.003},{"s":"zoom","f":950,"v":0.006},{"s":"zoom","f":954,"v":-0.004},{"s":"zoom","f":958,"v":0.003},{"s":"zoom","f":961,"v":0},
{"s":"rot","f":0,"v":0},{"s":"rot","f":8,"v":0.002},{"s":"rot","f":16,"v":-0.002},{"s":"rot","f":24,"v":0.002},{"s":"rot","f":32,"v":-0.001},{"s":"rot","f":36,"v":0},{"s":"rot","f":39,"v":0.01},{"s":"rot","f":43,"v":-0.01},{"s":"rot","f":47,"v":0.02},{"s":"rot","f":51,"v":0},{"s":"rot","f":55,"v":0.035},{"s":"rot","f":59,"v":0.01},{"s":"rot","f":63,"v":0.02},{"s":"rot","f":67,"v":-0.01},{"s":"rot","f":71,"v":0.015},{"s":"rot","f":75,"v":-0.005},{"s":"rot","f":79,"v":0.01},{"s":"rot","f":83,"v":-0.015},{"s":"rot","f":87,"v":0.005},{"s":"rot","f":91,"v":-0.01},{"s":"rot","f":95,"v":0.01},{"s":"rot","f":99,"v":-0.015},{"s":"rot","f":103,"v":0.005},{"s":"rot","f":107,"v":-0.01},{"s":"rot","f":111,"v":0.01},{"s":"rot","f":115,"v":-0.015},{"s":"rot","f":119,"v":0.008},{"s":"rot","f":123,"v":-0.01},{"s":"rot","f":127,"v":0.012},{"s":"rot","f":131,"v":-0.008},{"s":"rot","f":135,"v":0.01},{"s":"rot","f":139,"v":-0.012},{"s":"rot","f":143,"v":0.006},{"s":"rot","f":147,"v":-0.01},{"s":"rot","f":151,"v":0.005},{"s":"rot","f":155,"v":-0.02},{"s":"rot","f":159,"v":-0.005},{"s":"rot","f":163,"v":-0.025},{"s":"rot","f":167,"v":-0.01},{"s":"rot","f":171,"v":-0.02},{"s":"rot","f":175,"v":0},{"s":"rot","f":179,"v":-0.015},{"s":"rot","f":183,"v":0.01},{"s":"rot","f":187,"v":-0.01},{"s":"rot","f":191,"v":0.005},{"s":"rot","f":195,"v":-0.01},{"s":"rot","f":199,"v":0},{"s":"rot","f":202,"v":-0.02},{"s":"rot","f":204.5,"v":-0.14},{"s":"rot","f":206.5,"v":-0.02},{"s":"rot","f":209,"v":0.01},{"s":"rot","f":212,"v":-0.01},{"s":"rot","f":215,"v":0.015},{"s":"rot","f":218,"v":-0.005},{"s":"rot","f":221,"v":0.02},{"s":"rot","f":224,"v":-0.01},{"s":"rot","f":227,"v":0.015},{"s":"rot","f":230,"v":-0.01},{"s":"rot","f":233,"v":0.01},{"s":"rot","f":236,"v":-0.02},{"s":"rot","f":239,"v":0.005},{"s":"rot","f":242,"v":-0.015},{"s":"rot","f":245,"v":0.02},{"s":"rot","f":248,"v":-0.01},{"s":"rot","f":251,"v":0.015},{"s":"rot","f":254,"v":-0.005},{"s":"rot","f":257,"v":0.01},{"s":"rot","f":260,"v":-0.02},{"s":"rot","f":263,"v":-0.04},{"s":"rot","f":266,"v":-0.07},{"s":"rot","f":269,"v":-0.02},{"s":"rot","f":272,"v":-0.08},{"s":"rot","f":275,"v":-0.03},{"s":"rot","f":278,"v":0.02},{"s":"rot","f":280,"v":0.08},{"s":"rot","f":282,"v":0.05},{"s":"rot","f":284,"v":0.13},{"s":"rot","f":286,"v":0.1},{"s":"rot","f":288,"v":0.16},{"s":"rot","f":290,"v":0.12},{"s":"rot","f":292,"v":0.14},{"s":"rot","f":294,"v":0.03},{"s":"rot","f":296,"v":0},{"s":"rot","f":299,"v":0.01},{"s":"rot","f":303,"v":-0.01},{"s":"rot","f":307,"v":0.015},{"s":"rot","f":311,"v":-0.005},{"s":"rot","f":315,"v":0.01},{"s":"rot","f":319,"v":-0.01},{"s":"rot","f":323,"v":0.012},{"s":"rot","f":327,"v":-0.008},{"s":"rot","f":331,"v":0.01},{"s":"rot","f":335,"v":0},{"s":"rot","f":339,"v":0.015},{"s":"rot","f":343,"v":-0.005},{"s":"rot","f":347,"v":0.01},{"s":"rot","f":351,"v":0},{"s":"rot","f":355,"v":0.015},{"s":"rot","f":359,"v":-0.005},{"s":"rot","f":363,"v":0.01},{"s":"rot","f":367,"v":0},{"s":"rot","f":371,"v":0.012},{"s":"rot","f":375,"v":0.005},{"s":"rot","f":377,"v":0.02},{"s":"rot","f":379,"v":0.34},{"s":"rot","f":380.5,"v":0.3},{"s":"rot","f":382,"v":0.1},{"s":"rot","f":385,"v":0.04},{"s":"rot","f":388,"v":0.02},{"s":"rot","f":391,"v":0.05},{"s":"rot","f":394,"v":0.03},{"s":"rot","f":397,"v":0.045},{"s":"rot","f":400,"v":0.025},{"s":"rot","f":403,"v":0.05},{"s":"rot","f":406,"v":0.03},{"s":"rot","f":409,"v":0.04},{"s":"rot","f":412,"v":0.02},{"s":"rot","f":415,"v":0.045},{"s":"rot","f":418,"v":0.03},{"s":"rot","f":421,"v":0.04},{"s":"rot","f":423,"v":0.01},{"s":"rot","f":424,"v":-0.1},{"s":"rot","f":425.5,"v":-0.3},{"s":"rot","f":427,"v":-0.05},{"s":"rot","f":429,"v":0.01},{"s":"rot","f":432,"v":0.02},{"s":"rot","f":436,"v":-0.005},{"s":"rot","f":440,"v":0.025},{"s":"rot","f":444,"v":0},{"s":"rot","f":448,"v":0.03},{"s":"rot","f":452,"v":0.005},{"s":"rot","f":456,"v":0.02},{"s":"rot","f":460,"v":-0.005},{"s":"rot","f":464,"v":0.025},{"s":"rot","f":468,"v":0},{"s":"rot","f":472,"v":0.02},{"s":"rot","f":476,"v":-0.01},{"s":"rot","f":480,"v":0.015},{"s":"rot","f":484,"v":-0.005},{"s":"rot","f":488,"v":0.02},{"s":"rot","f":492,"v":0},{"s":"rot","f":496,"v":0.015},{"s":"rot","f":500,"v":-0.005},{"s":"rot","f":504,"v":0.01},{"s":"rot","f":508,"v":-0.01},{"s":"rot","f":512,"v":0.005},{"s":"rot","f":516,"v":0},{"s":"rot","f":522,"v":0.006},{"s":"rot","f":528,"v":-0.004},{"s":"rot","f":534,"v":0.005},{"s":"rot","f":540,"v":-0.006},{"s":"rot","f":546,"v":0.004},{"s":"rot","f":552,"v":-0.005},{"s":"rot","f":558,"v":0.003},{"s":"rot","f":564,"v":-0.006},{"s":"rot","f":570,"v":0.002},{"s":"rot","f":576,"v":-0.008},{"s":"rot","f":582,"v":0},{"s":"rot","f":588,"v":-0.01},{"s":"rot","f":594,"v":-0.005},{"s":"rot","f":600,"v":-0.015},{"s":"rot","f":606,"v":-0.01},{"s":"rot","f":612,"v":-0.02},{"s":"rot","f":618,"v":-0.012},{"s":"rot","f":624,"v":-0.022},{"s":"rot","f":630,"v":-0.015},{"s":"rot","f":636,"v":-0.02},{"s":"rot","f":642,"v":-0.01},{"s":"rot","f":648,"v":-0.02},{"s":"rot","f":654,"v":-0.01},{"s":"rot","f":660,"v":-0.015},{"s":"rot","f":666,"v":-0.005},{"s":"rot","f":672,"v":-0.01},{"s":"rot","f":678,"v":0},{"s":"rot","f":684,"v":-0.005},{"s":"rot","f":690,"v":0.002},{"s":"rot","f":696,"v":-0.004},{"s":"rot","f":702,"v":0.004},{"s":"rot","f":708,"v":-0.003},{"s":"rot","f":714,"v":0.003},{"s":"rot","f":720,"v":-0.004},{"s":"rot","f":726,"v":0.002},{"s":"rot","f":732,"v":-0.002},{"s":"rot","f":738,"v":0.004},{"s":"rot","f":744,"v":-0.003},{"s":"rot","f":750,"v":0.002},{"s":"rot","f":756,"v":-0.002},{"s":"rot","f":762,"v":0.002},{"s":"rot","f":766,"v":-0.01},{"s":"rot","f":770,"v":-0.02},{"s":"rot","f":774,"v":-0.03},{"s":"rot","f":778,"v":-0.02},{"s":"rot","f":782,"v":-0.03},{"s":"rot","f":786,"v":-0.015},{"s":"rot","f":790,"v":-0.025},{"s":"rot","f":794,"v":-0.01},{"s":"rot","f":798,"v":-0.02},{"s":"rot","f":802,"v":0},{"s":"rot","f":806,"v":-0.015},{"s":"rot","f":810,"v":0.005},{"s":"rot","f":814,"v":-0.01},{"s":"rot","f":818,"v":0.01},{"s":"rot","f":822,"v":-0.005},{"s":"rot","f":826,"v":0.015},{"s":"rot","f":829,"v":0.03},{"s":"rot","f":832.4,"v":0.045},{"s":"rot","f":834,"v":0.01},{"s":"rot","f":837,"v":0.03},{"s":"rot","f":840,"v":-0.01},{"s":"rot","f":843,"v":0.01},{"s":"rot","f":846,"v":-0.02},{"s":"rot","f":849,"v":0},{"s":"rot","f":851,"v":-0.05},{"s":"rot","f":853.2,"v":-0.109},{"s":"rot","f":855,"v":-0.03},{"s":"rot","f":858,"v":-0.01},{"s":"rot","f":862,"v":-0.02},{"s":"rot","f":866,"v":0},{"s":"rot","f":870,"v":-0.015},{"s":"rot","f":874,"v":-0.03},{"s":"rot","f":878,"v":-0.02},{"s":"rot","f":881.2,"v":-0.088},{"s":"rot","f":883,"v":-0.02},{"s":"rot","f":886,"v":0},{"s":"rot","f":889,"v":-0.01},{"s":"rot","f":892,"v":0.02},{"s":"rot","f":895.2,"v":0.05},{"s":"rot","f":897,"v":0.02},{"s":"rot","f":900,"v":0.03},{"s":"rot","f":903,"v":0},{"s":"rot","f":906,"v":0.02},{"s":"rot","f":909,"v":0.01},{"s":"rot","f":912.7,"v":0.06},{"s":"rot","f":915,"v":0.02},{"s":"rot","f":918,"v":0},{"s":"rot","f":921,"v":-0.03},{"s":"rot","f":924.6,"v":-0.05},{"s":"rot","f":927,"v":0},{"s":"rot","f":931,"v":0.01},{"s":"rot","f":936,"v":0},{"s":"rot","f":942,"v":0.004},{"s":"rot","f":948,"v":-0.002},{"s":"rot","f":954,"v":0.003},{"s":"rot","f":961,"v":0}
]},
"layer": [
{"mark": {"type": "line", "strokeWidth": 1.1},
 "encoding": {
  "x": {"field": "f", "type": "quantitative", "scale": {"domain": [0, 1000], "nice": false},
        "axis": {"title": "Frame", "values": [0,100,200,300,400,500,600,700,800,900,1000], "tickSize": -5, "labelPadding": 13, "titlePadding": 4, "format": "d"}},
  "y": {"field": "v", "type": "quantitative", "scale": {"domain": [-1.2, 0.8], "nice": false, "zero": false},
        "axis": {"title": "Motion activity", "values": [-1.2,-1,-0.8,-0.6,-0.4,-0.2,0,0.2,0.4,0.6,0.8], "tickSize": -5, "labelPadding": 11, "titlePadding": 12,
                 "labelExpr": "datum.value < 0 ? '-' + format(-datum.value, '~g') : format(datum.value, '~g')"}},
  "color": {"field": "s", "type": "nominal", "scale": {"domain": ["pan","tilt","zoom","rot"], "range": ["#ff2a00","#00e000","#2244ff","#ff33ff"]},
            "legend": {"title": null, "orient": "none", "legendX": 440, "legendY": 5, "symbolType": "M-3,0H3", "symbolSize": 100, "symbolStrokeWidth": 1.2,
                       "labelAlign": "right", "labelOffset": -26, "labelFontSize": 11, "labelColor": "#222", "rowPadding": 0.4, "padding": 0}},
  "strokeDash": {"field": "s", "type": "nominal", "scale": {"domain": ["pan","tilt","zoom","rot"], "range": [[1,0],[4,2],[1.5,2],[1,1.5]]},
            "legend": {"title": null, "orient": "none", "legendX": 440, "legendY": 5, "symbolType": "M-3,0H3", "symbolSize": 100, "symbolStrokeWidth": 1.2,
                       "labelAlign": "right", "labelOffset": -26, "labelFontSize": 11, "labelColor": "#222", "rowPadding": 0.4, "padding": 0}}
 }},
{"mark": {"type": "rule", "opacity": 0},
 "encoding": {
  "x": {"datum": 0, "type": "quantitative", "scale": {"domain": [0, 1000], "nice": false},
        "axis": {"orient": "top", "title": null, "labels": false, "values": [0,100,200,300,400,500,600,700,800,900,1000], "tickSize": -5}},
  "y": {"datum": 0, "type": "quantitative", "scale": {"domain": [-1.2, 0.8], "nice": false, "zero": false},
        "axis": {"orient": "right", "title": null, "labels": false, "values": [-1.2,-1,-0.8,-0.6,-0.4,-0.2,0,0.2,0.4,0.6,0.8], "tickSize": -5}}
 }}
],
"resolve": {"scale": {"x": "independent", "y": "independent"}, "axis": {"x": "independent", "y": "independent"}}
}
